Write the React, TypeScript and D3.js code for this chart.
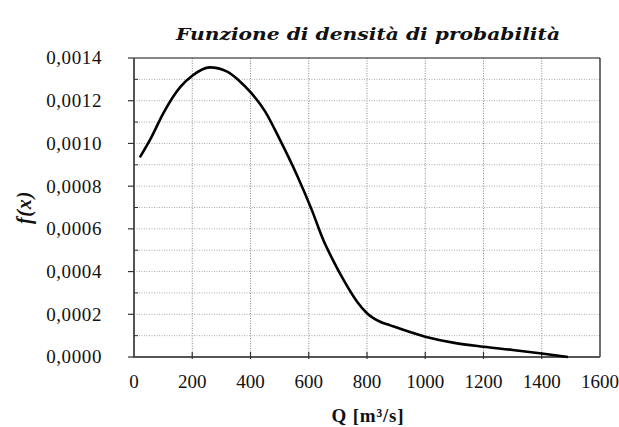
import React from "react";
import * as d3 from "d3";

// Probability density estimate of discharge Q
const flowQ = [20, 60, 100, 160, 200, 260, 320, 360, 400, 450, 500, 560, 610, 650, 680, 720, 766, 800, 845, 880, 1000, 1100, 1200, 1300, 1400, 1490];
const density = [0.000935, 0.00103, 0.00114, 0.001266, 0.001317, 0.001356, 0.001336, 0.001295, 0.00124, 0.00115, 0.00102, 0.00085, 0.00069, 0.000548, 0.000462, 0.00036, 0.000259, 0.000205, 0.000165, 0.000148, 0.000095, 0.000066, 0.000048, 0.000033, 0.000016, 0.0];

const xTicks = [0, 200, 400, 600, 800, 1000, 1200, 1400, 1600];
const yTicks = [0, 0.0002, 0.0004, 0.0006, 0.0008, 0.001, 0.0012, 0.0014];
const yMinor = [0.0001, 0.0003, 0.0005, 0.0007, 0.0009, 0.0011, 0.0013];

const W = 619;
const H = 427;
const left = 134;
const right = 600;
const top = 58;
const bottom = 357;

const serif = "'Liberation Serif', 'DejaVu Serif', serif";
const titleFont = "'DejaVu Serif', 'Liberation Serif', serif";

export default function App() {
  const x = d3.scaleLinear().domain([0, 1600]).range([left, right]);
  const y = d3.scaleLinear().domain([0, 0.0014]).range([bottom, top]);
  const pts: [number, number][] = flowQ.map((q, i) => [q, density[i]]);
  const line = d3
    .line<[number, number]>()
    .x((d) => x(d[0]))
    .y((d) => y(d[1]))
    .curve(d3.curveMonotoneX);
  const fmt = (v: number) => v.toFixed(4).replace(".", ",");
  const allY = [...yTicks, ...yMinor].filter((v) => v > 0 && v < 0.0014);

  return (
    <svg width={W} height={H} style={{ position: "absolute", left: 0, top: 0 }}>
      <rect width={W} height={H} fill="#fff" />
      {/* grid */}
      {xTicks.filter((v) => v > 0 && v < 1600).map((v) => (
        <line key={"gx" + v} x1={x(v)} x2={x(v)} y1={top} y2={bottom} stroke="#888" strokeWidth={1} strokeDasharray="1,1.5" />
      ))}
      {allY.map((v) => (
        <line key={"gy" + v} x1={left} x2={right} y1={y(v)} y2={y(v)} stroke="#aaa" strokeWidth={1} strokeDasharray="1,1.5" />
      ))}
      {/* frame */}
      <line x1={left} x2={right} y1={top} y2={top} stroke="#111" strokeWidth={1.2} />
      <line x1={right} x2={right} y1={top} y2={bottom} stroke="#111" strokeWidth={1.2} />
      <line x1={left} x2={left} y1={top} y2={bottom + 1} stroke="#555" strokeWidth={2} />
      <line x1={left} x2={right} y1={bottom} y2={bottom} stroke="#555" strokeWidth={2} />
      {/* y ticks */}
      {yTicks.map((v) => (
        <g key={"yt" + v}>
          <line x1={left - 6} x2={left} y1={y(v)} y2={y(v)} stroke="#333" strokeWidth={1.2} />
          <text x={left - 32} y={y(v)} dy="0.34em" textAnchor="end" fontFamily={serif} fontSize={19} letterSpacing={0.6} fill="#111">
            {fmt(v)}
          </text>
        </g>
      ))}
      {yMinor.map((v) => (
        <line key={"ym" + v} x1={left} x2={left + 4} y1={y(v)} y2={y(v)} stroke="#333" strokeWidth={1} />
      ))}
      {/* x ticks */}
      {xTicks.map((v) => (
        <g key={"xt" + v}>
          {v > 0 && v < 1600 && (
            <line x1={x(v)} x2={x(v)} y1={bottom - 5} y2={bottom + 2} stroke="#333" strokeWidth={1.2} />
          )}
          <text x={x(v)} y={382} dy="0.34em" textAnchor="middle" fontFamily={serif} fontSize={19} fill="#111">
            {v}
          </text>
        </g>
      ))}
      {/* density curve */}
      <path d={line(pts) || ""} fill="none" stroke="#000" strokeWidth={2.6} strokeLinejoin="round" />
      {/* titles */}
      <text x={368} y={40} textAnchor="middle" fontFamily={titleFont} fontSize={16} fontWeight="bold" fontStyle="italic" textLength={384} lengthAdjust="spacingAndGlyphs" fill="#111">
        Funzione di densità di probabilità
      </text>
      <text transform={`translate(24,${(top + bottom) / 2}) rotate(-90)`} dy="0.34em" textAnchor="middle" fontFamily={serif} fontSize={20} fontWeight="bold" fontStyle="italic" letterSpacing={0.8} fill="#111">
        f(x)
      </text>
      <text x={368} y={422} textAnchor="middle" fontFamily={serif} fontSize={19} fontWeight="bold" letterSpacing={0.8} fill="#111">
        Q [m³/s]
      </text>
    </svg>
  );
}
